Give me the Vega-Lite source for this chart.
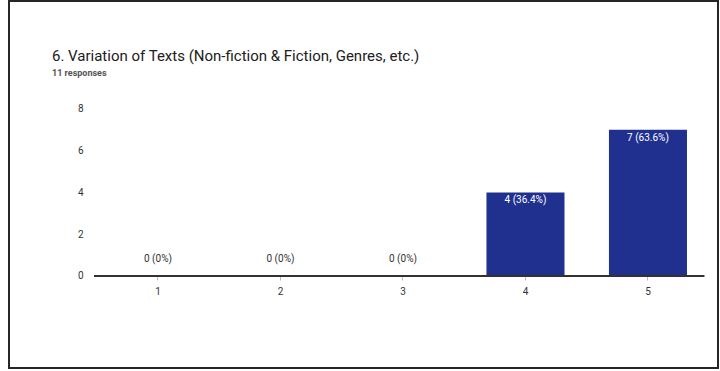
{
  "$schema": "https://vega.github.io/schema/vega-lite/v6.json",
  "width": 720,
  "height": 371,
  "autosize": {"type": "fit", "contains": "padding"},
  "padding": {"left": 9, "top": 1, "right": 2, "bottom": 3},
  "background": "white",
  "config": {
    "font": "Roboto",
    "view": {"stroke": "#262626", "strokeWidth": 2}
  },
  "title": {
    "text": "6. Variation of Texts (Non-fiction & Fiction, Genres, etc.)",
    "subtitle": "11 responses",
    "anchor": "start",
    "frame": "group",
    "orient": "top",
    "offset": -77,
    "dx": 43,
    "font": "Roboto",
    "fontSize": 15,
    "fontWeight": "normal",
    "color": "#202020",
    "subtitleFont": "Roboto",
    "subtitleFontSize": 9,
    "subtitleFontWeight": "bold",
    "subtitleColor": "#555555",
    "subtitlePadding": 5
  },
  "data": {
    "values": [
      {"option": "1", "count": 0, "label": "0 (0%)"},
      {"option": "2", "count": 0, "label": "0 (0%)"},
      {"option": "3", "count": 0, "label": "0 (0%)"},
      {"option": "4", "count": 4, "label": "4 (36.4%)"},
      {"option": "5", "count": 7, "label": "7 (63.6%)"}
    ]
  },
  "encoding": {
    "x": {
      "field": "option",
      "type": "ordinal",
      "scale": {"paddingInner": 0.363, "paddingOuter": 0.5755, "align": 0.78},
      "axis": {
        "title": null,
        "orient": "bottom",
        "offset": -92,
        "domain": false,
        "ticks": true,
        "tickSize": 4,
        "tickColor": "#bbbbbb",
        "labelAngle": 0,
        "labelPadding": 6,
        "labelFontSize": 10,
        "labelColor": "#333333",
        "labelFont": "Roboto"
      }
    }
  },
  "layer": [
    {
      "mark": {"type": "bar", "color": "#20308f"},
      "encoding": {
        "y": {
          "field": "count",
          "type": "quantitative",
          "scale": {"domain": [-4.41, 13.17], "nice": false, "zero": false},
          "axis": {
            "title": null,
            "orient": "left",
            "offset": -74,
            "values": [0, 2, 4, 6, 8],
            "grid": false,
            "domain": false,
            "ticks": false,
            "labelPadding": 0,
            "labelFontSize": 10,
            "labelColor": "#333333",
            "labelFont": "Roboto"
          }
        }
      }
    },
    {
      "mark": {"type": "rule", "color": "#333333", "strokeWidth": 1.5},
      "encoding": {
        "x": {"datum": "1", "bandPosition": -0.32},
        "x2": {"datum": "5", "bandPosition": 1.22},
        "y": {"datum": 0, "type": "quantitative"}
      }
    },
    {
      "transform": [{"filter": "datum.count > 0"}],
      "mark": {"type": "text", "color": "white", "baseline": "top", "dy": 3, "fontSize": 10, "font": "Roboto"},
      "encoding": {
        "y": {"field": "count", "type": "quantitative"},
        "text": {"field": "label"}
      }
    },
    {
      "transform": [{"filter": "datum.count == 0"}],
      "mark": {"type": "text", "color": "#333333", "baseline": "bottom", "dy": -12, "fontSize": 10, "font": "Roboto"},
      "encoding": {
        "y": {"field": "count", "type": "quantitative"},
        "text": {"field": "label"}
      }
    }
  ]
}
